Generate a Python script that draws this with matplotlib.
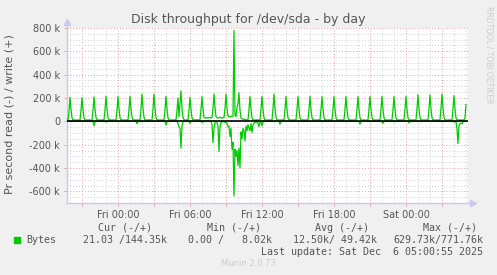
import matplotlib.pyplot as plt
import numpy as np

# 5-minute samples, Thu 19:45 -> Sat 05:00, in kB/s.
# x is hours relative to Fri 00:00; one row below = one hour starting on the hour.
t_start = -4.25
write_head = [11, 12, 90]
read_head = [1, 0, 1]

write_rows = [
    [207, 104, 31, 14, 11, 12, 11, 12, 10, 11, 12, 92],   # Thu 20:00
    [204, 102, 29, 13, 12, 11, 12, 13, 11, 10, 12, 96],   # Thu 21:00
    [210, 106, 32, 15, 12, 11, 10, 12, 11, 12, 11, 98],   # Thu 22:00
    [215, 108, 30, 14, 13, 12, 11, 12, 12, 11, 12, 97],   # Thu 23:00
    [213, 107, 31, 14, 12, 11, 12, 11, 12, 12, 11, 100],  # Fri 00:00
    [215, 106, 33, 15, 12, 12, 11, 12, 11, 12, 12, 105],  # Fri 01:00
    [233, 115, 34, 15, 12, 11, 12, 13, 12, 11, 12, 104],  # Fri 02:00
    [233, 114, 32, 14, 13, 12, 11, 12, 11, 12, 11, 98],   # Fri 03:00
    [213, 105, 30, 14, 12, 11, 12, 11, 12, 13, 12, 92],   # Fri 04:00
    [200, 40, 150, 262, 110, 32, 15, 12, 11, 12, 11, 95], # Fri 05:00
    [205, 102, 30, 15, 14, 12, 13, 12, 14, 12, 13, 100],  # Fri 06:00
    [213, 108, 35, 28, 30, 32, 27, 30, 34, 28, 31, 110],  # Fri 07:00
    [233, 118, 40, 30, 28, 32, 35, 30, 27, 33, 30, 112],  # Fri 08:00
    [233, 110, 45, 40, 38, 42, 40, 45, 779, 60, 40, 120], # Fri 09:00
    [150, 244, 95, 30, 22, 18, 20, 15, 14, 13, 12, 100],  # Fri 10:00
    [213, 106, 32, 15, 12, 11, 12, 13, 11, 12, 11, 100],  # Fri 11:00
    [213, 105, 31, 14, 12, 11, 12, 11, 12, 11, 12, 104],  # Fri 12:00
    [233, 113, 33, 15, 12, 11, 12, 11, 12, 12, 11, 100],  # Fri 13:00
    [213, 105, 31, 14, 12, 11, 12, 11, 12, 11, 12, 100],  # Fri 14:00
    [213, 106, 30, 14, 11, 12, 12, 11, 12, 12, 11, 99],   # Fri 15:00
    [214, 104, 31, 15, 12, 11, 12, 12, 11, 12, 12, 101],  # Fri 16:00
    [213, 105, 32, 14, 12, 12, 11, 12, 12, 11, 12, 100],  # Fri 17:00
    [214, 106, 31, 14, 12, 11, 12, 11, 12, 12, 11, 99],   # Fri 18:00
    [213, 104, 30, 15, 12, 12, 11, 12, 11, 12, 12, 100],  # Fri 19:00
    [212, 105, 31, 14, 11, 12, 12, 11, 12, 11, 12, 101],  # Fri 20:00
    [213, 106, 32, 14, 12, 11, 12, 12, 11, 12, 11, 100],  # Fri 21:00
    [214, 105, 31, 15, 12, 12, 11, 12, 12, 11, 12, 99],   # Fri 22:00
    [213, 104, 30, 14, 12, 11, 12, 11, 12, 12, 12, 100],  # Fri 23:00
    [213, 106, 31, 14, 11, 12, 12, 12, 11, 12, 11, 104],  # Sat 00:00
    [227, 110, 33, 15, 12, 11, 12, 11, 12, 12, 12, 106],  # Sat 01:00
    [227, 111, 32, 14, 12, 12, 11, 12, 11, 12, 11, 108],  # Sat 02:00
    [233, 114, 33, 15, 12, 11, 12, 12, 12, 11, 12, 104],  # Sat 03:00
    [220, 108, 31, 14, 12, 12, 11, 12, 11, 12, 12, 25],   # Sat 04:00
]
write_tail = [144.35]

read_rows = [
    [1, 0, 2, 0, 1, 0, 0, 1, 0, 0, 1, 0],
    [2, 1, 0, 0, 1, 0, 0, 1, 0, 1, 0, 0],
    [38, 8, 1, 0, 1, 0, 1, 0, 0, 1, 0, 1],
    [6, 2, 0, 1, 0, 0, 1, 0, 0, 1, 0, 0],
    [4, 1, 0, 0, 1, 0, 0, 1, 0, 0, 1, 0],
    [2, 0, 1, 0, 0, 1, 0, 20, 4, 0, 1, 0],
    [3, 1, 0, 0, 1, 0, 0, 1, 0, 0, 1, 0],
    [2, 0, 1, 0, 0, 1, 0, 0, 1, 0, 0, 1],
    [32, 6, 1, 0, 1, 0, 0, 1, 0, 0, 1, 0],
    [20, 45, 60, 230, 40, 5, 2, 1, 0, 1, 0, 1],
    [17, 3, 1, 0, 1, 0, 0, 1, 0, 1, 0, 0],
    [10, 2, 0, 1, 0, 0, 1, 0, 0, 1, 30, 181],
    [60, 10, 5, 8, 40, 259, 50, 10, 5, 3, 2, 8],
    [10, 15, 46, 40, 130, 60, 240, 180, 640, 240, 300, 250],
    [380, 230, 400, 90, 150, 60, 80, 170, 40, 80, 30, 60],
    [80, 20, 95, 30, 15, 10, 5, 8, 12, 46, 10, 3],
    [40, 8, 1, 0, 1, 0, 0, 1, 0, 0, 1, 0],
    [3, 1, 0, 0, 1, 0, 23, 4, 0, 1, 0, 0],
    [2, 0, 1, 0, 0, 1, 0, 0, 1, 0, 0, 1],
    [3, 1, 0, 1, 0, 0, 1, 0, 0, 1, 0, 0],
    [2, 0, 1, 0, 0, 1, 0, 1, 0, 0, 1, 0],
    [3, 1, 0, 0, 1, 0, 0, 1, 0, 1, 0, 0],
    [2, 0, 1, 0, 0, 1, 0, 0, 1, 0, 0, 1],
    [3, 1, 0, 1, 0, 0, 1, 0, 0, 1, 0, 0],
    [2, 0, 23, 4, 0, 1, 0, 1, 0, 0, 1, 0],
    [3, 1, 0, 0, 1, 0, 0, 1, 0, 1, 0, 0],
    [5, 17, 3, 0, 0, 1, 0, 0, 1, 0, 0, 1],
    [3, 1, 0, 1, 0, 0, 1, 0, 0, 1, 0, 0],
    [2, 0, 1, 12, 2, 1, 0, 1, 0, 0, 1, 0],
    [3, 1, 0, 0, 1, 0, 0, 1, 0, 1, 0, 0],
    [2, 0, 1, 0, 0, 1, 0, 0, 1, 0, 0, 1],
    [3, 1, 0, 1, 0, 0, 1, 0, 0, 1, 0, 0],
    [6, 2, 3, 60, 190, 40, 20, 15, 22, 5, 2, 1],
]
read_tail = [0.021]

xtick_hours = [0, 6, 12, 18, 24]
xtick_labels = ["Fri 00:00", "Fri 06:00", "Fri 12:00", "Fri 18:00", "Sat 00:00"]
ytick_values = [-600, -400, -200, 0, 200, 400, 600, 800]

legend_header = ["Cur (-/+)", "Min (-/+)", "Avg (-/+)", "Max (-/+)"]
legend_values = ["21.03 /144.35k", "0.00 /   8.02k", "12.50k/ 49.42k", "629.73k/771.76k"]
last_update = "Last update: Sat Dec  6 05:00:55 2025"

write = np.concatenate([write_head, *write_rows, write_tail]) * 1000
read = np.concatenate([read_head, *read_rows, read_tail]) * 1000
hours = t_start + np.arange(len(write)) / 12

W, H = 497, 275
GREEN = "#00cc00"
TEXT = "#555555"
AXIS = "#c8c8f0"


def fx(px):
    return px / W


def fy(py):
    return 1 - py / H


fig = plt.figure(figsize=(W / 100, H / 100), dpi=100)
fig.patch.set_facecolor("#f0f0f0")
ax = fig.add_axes([fx(67), fy(203), 401 / W, 175 / H])
ax.set_facecolor("white")

ax.set_xlim(-4.25, 29.17)
ax.set_ylim(-700e3, 800e3)

# grid: hourly / 50k minor, 3h / 200k major
ax.set_xticks(np.arange(-3, 29, 3))
ax.set_xticks(np.arange(-4, 30, 1), minor=True)
ax.set_yticks(np.arange(-600e3, 801e3, 200e3))
ax.set_yticks(np.arange(-700e3, 801e3, 50e3), minor=True)
ax.grid(which="minor", color="#d0d0d0", linestyle=(0, (1, 2)), linewidth=0.7)
ax.grid(which="major", color="#e8a0a0", linestyle=(0, (1, 2)), linewidth=0.7)
ax.set_axisbelow(True)

lab = dict(zip(xtick_hours, xtick_labels))
ax.set_xticklabels([lab.get(h, "") for h in np.arange(-3, 29, 3)])
ax.set_yticklabels([f"{v} k" if v else "0" for v in ytick_values])
ax.tick_params(which="both", colors="#e8a0a0", labelcolor=TEXT, labelsize=7,
               length=2, width=0.7, pad=3)
ax.tick_params(which="minor", length=0)

for s in ["top", "right", "left", "bottom"]:
    ax.spines[s].set_visible(False)
ax.plot([0, 0], [0, 1.03], color=AXIS, lw=1, transform=ax.transAxes, clip_on=False)
ax.plot([0, 1.01], [0, 0], color=AXIS, lw=1, transform=ax.transAxes, clip_on=False)
ax.plot([0], [1.035], marker="^", ms=4, color=AXIS, transform=ax.transAxes, clip_on=False)
ax.plot([1.012], [0], marker=">", ms=4, color=AXIS, transform=ax.transAxes, clip_on=False)

ax.plot(hours, write, color=GREEN, lw=0.9, zorder=3)
ax.plot(hours, -read, color=GREEN, lw=0.9, zorder=3)
ax.axhline(0, color="black", lw=1.2, zorder=4)

fig.text(fx(248), fy(19), "Disk throughput for /dev/sda - by day", ha="center",
         va="center", fontsize=9, color=TEXT)
fig.text(fx(10), fy(114), "Pr second read (-) / write (+)", rotation=90,
         ha="center", va="center", fontsize=8, color=TEXT)
fig.text(fx(489), fy(55), "RRDTOOL / TOBI OETIKER", rotation=270, ha="center",
         va="center", fontsize=5.5, color="#cccccc")

mono = dict(family="DejaVu Sans Mono", fontsize=7.2, color=TEXT, va="center")
for x, s in zip([98, 207, 315, 423], legend_header):
    fig.text(fx(x), fy(228), s, ha="left", **mono)
fig.patches.append(plt.Rectangle((fx(14), fy(243)), 6 / W, 6 / H, color=GREEN,
                                 transform=fig.transFigure, figure=fig))
fig.text(fx(26), fy(240), "Bytes", ha="left", **mono)
for x, s in zip([167, 272, 377, 483], legend_values):
    fig.text(fx(x), fy(240), s, ha="right", **mono)
fig.text(fx(483), fy(252), last_update, ha="right", **mono)
fig.text(fx(248), fy(264), "Munin 2.0.73", ha="center", va="center",
         fontsize=6, color="#cccccc")

fig.savefig("out.png", dpi=100, facecolor=fig.get_facecolor())
